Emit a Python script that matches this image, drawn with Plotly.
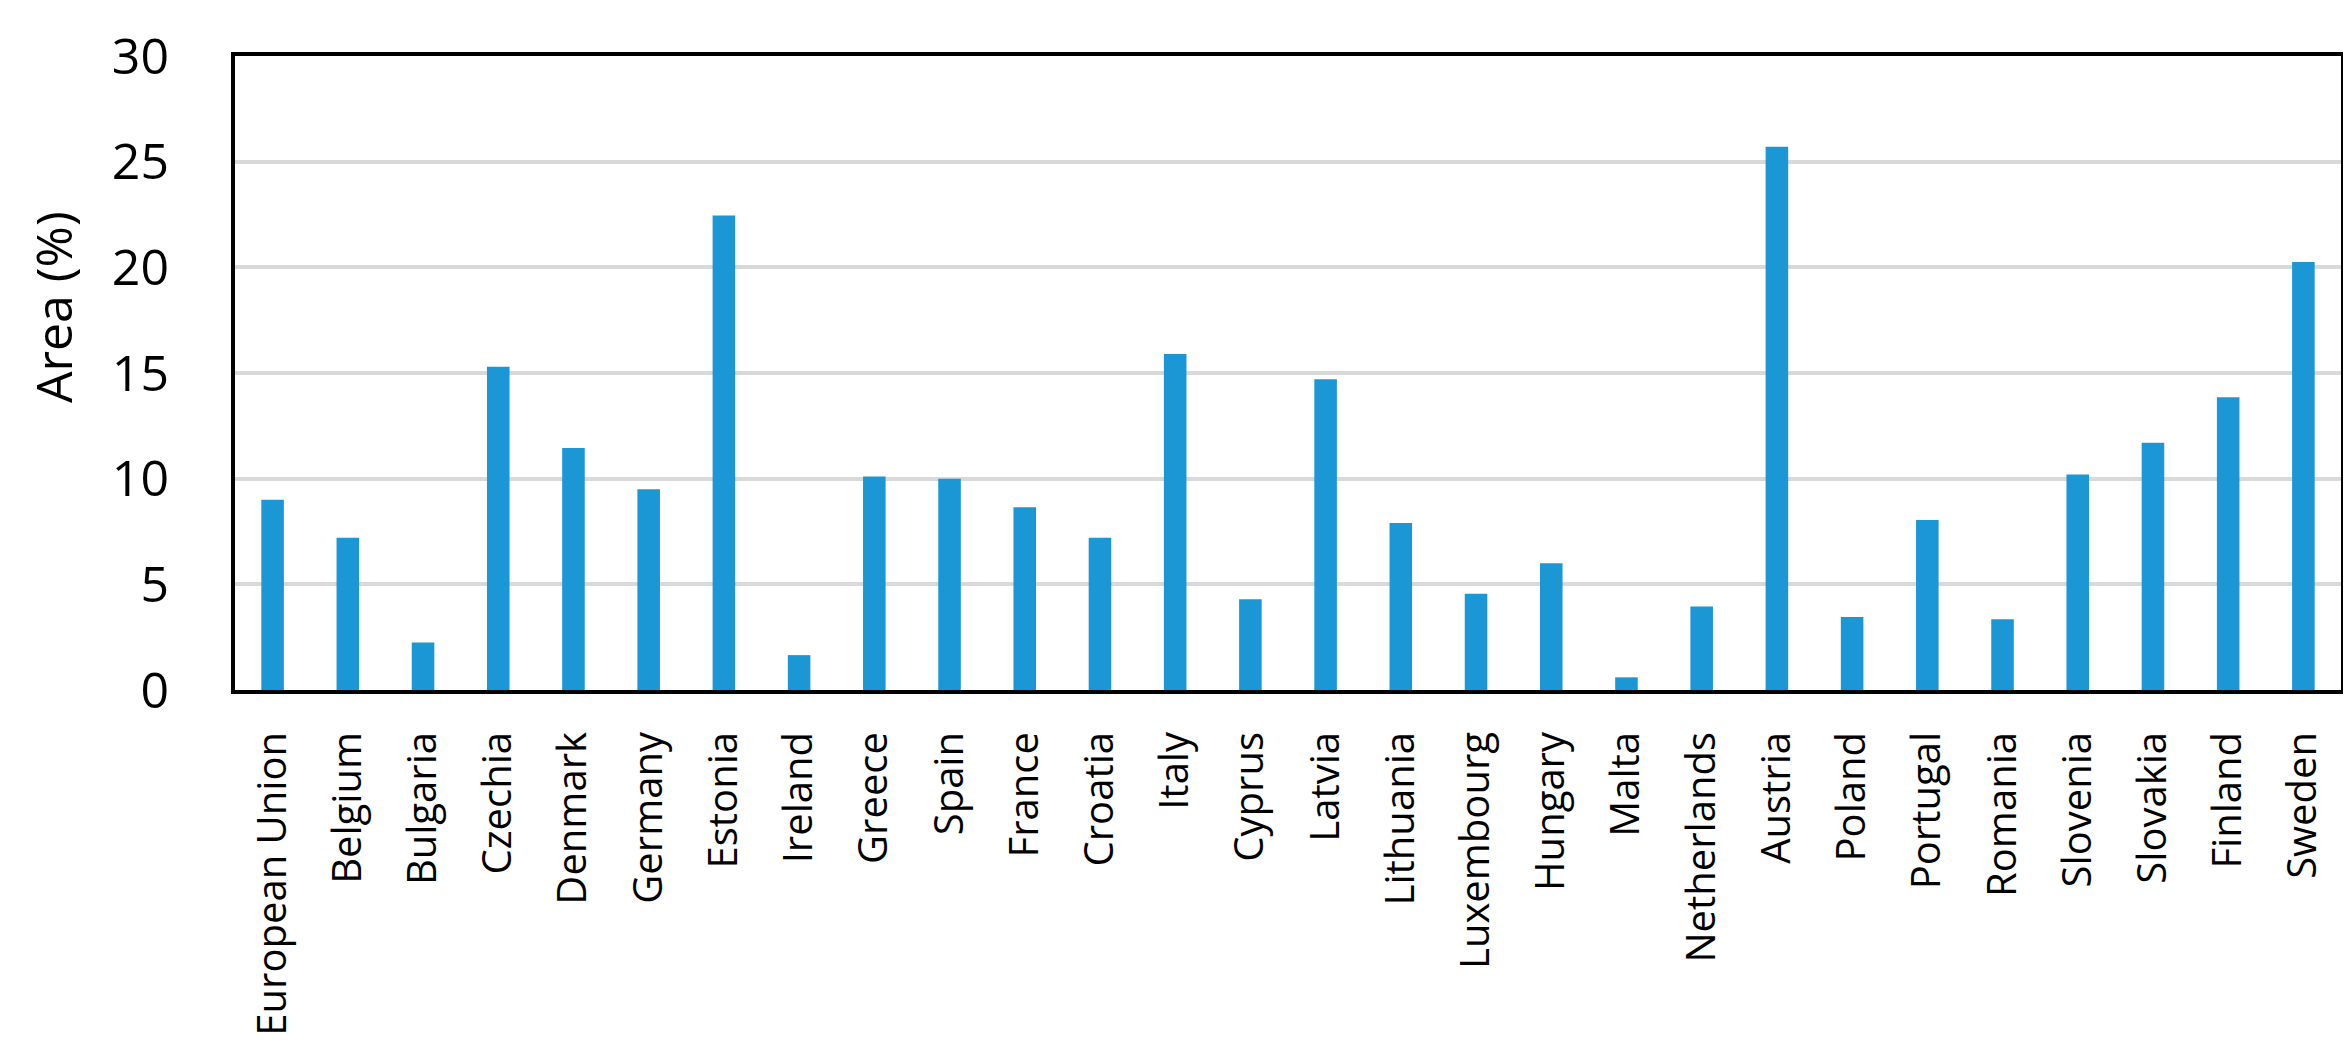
import plotly.graph_objects as go

countries = ["European Union", "Belgium", "Bulgaria", "Czechia", "Denmark", "Germany",
             "Estonia", "Ireland", "Greece", "Spain", "France", "Croatia", "Italy",
             "Cyprus", "Latvia", "Lithuania", "Luxembourg", "Hungary", "Malta",
             "Netherlands", "Austria", "Poland", "Portugal", "Romania", "Slovenia",
             "Slovakia", "Finland", "Sweden"]
area_pct = [9.0, 7.2, 2.25, 15.3, 11.45, 9.5,
            22.45, 1.65, 10.1, 10.0, 8.65, 7.2, 15.9,
            4.3, 14.7, 7.9, 4.55, 6.0, 0.6,
            3.95, 25.7, 3.45, 8.05, 3.35, 10.2,
            11.7, 13.85, 20.25]
y_ticks = [0, 5, 10, 15, 20, 25, 30]
y_title = "Area (%)"

W, H = 2351, 1040
L, R, T, B = 227, 18, 43, 353

fig = go.Figure()
fig.add_trace(go.Bar(x=countries, y=area_pct, marker=dict(color="#1C97D5", line=dict(width=0)),
                     width=0.3))

fig.update_layout(
    width=W, height=H, autosize=False,
    margin=dict(l=L, r=R, t=T, b=B, pad=0),
    paper_bgcolor="white", plot_bgcolor="white",
    showlegend=False,
    font=dict(family="Open Sans", color="black"),
)
fig.update_xaxes(
    type="category", tickangle=-90,
    tickfont=dict(family="Open Sans", size=40, color="black"),
    showline=True, linecolor="black", linewidth=4, mirror=True,
    showgrid=False, ticks="", ticklabelstandoff=22,
)
fig.update_yaxes(
    range=[0, 30], tickvals=y_ticks, ticktext=[str(v) for v in y_ticks],
    tickfont=dict(family="Open Sans", size=50, color="black"),
    showline=True, linecolor="black", linewidth=4, mirror=True,
    showgrid=True, gridcolor="#D9D9D9", gridwidth=3.5,
    zeroline=False, ticks="", ticklabelstandoff=52,
)
fig.add_annotation(
    text=y_title, xref="paper", yref="paper",
    x=(45 - L) / (W - L - R), y=(H - B - 298) / (H - T - B),
    xanchor="center", yanchor="middle", textangle=-90, showarrow=False,
    font=dict(family="Open Sans", size=50, color="black"),
)
fig.write_html("out.html")
